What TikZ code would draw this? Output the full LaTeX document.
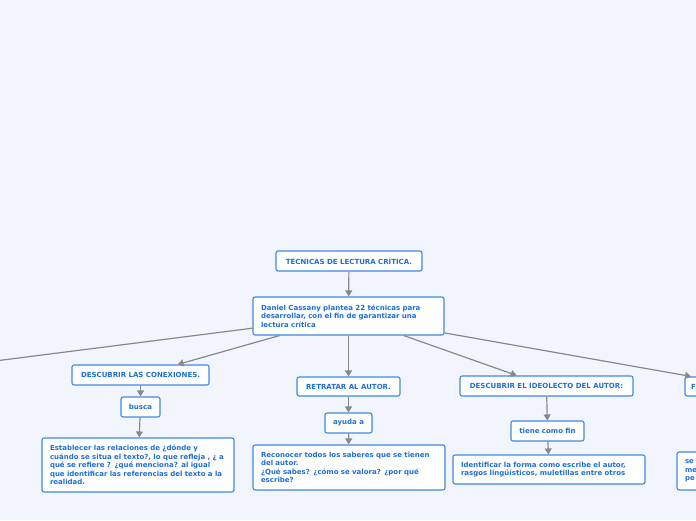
\documentclass[tikz,border=0pt]{standalone}
\usepackage{fontspec}
\usepackage{xcolor}
\usepackage{tikz}
\usetikzlibrary{arrows.meta, positioning, calc}
\newfontfamily\mapfont{DejaVu Sans}
\definecolor{bgblue}{HTML}{F2F5FD}
\definecolor{boxline}{HTML}{3D8BE5}
\definecolor{boxtext}{HTML}{1E6FD9}
\definecolor{linkgray}{HTML}{888888}

\begin{document}
\begin{tikzpicture}[x=1pt, y=1pt,
  every node/.style={font=\mapfont\bfseries\fontsize{7}{8.5}\selectfont, text=boxtext},
  B/.style={draw=boxline, line width=1.1pt, fill=white, rounded corners=2pt,
            inner sep=0pt, minimum height=20},
  T/.style={B, align=left, text width=#1, inner xsep=8pt},
  link/.style={draw=linkgray, line width=1.2pt, -{Triangle[length=6pt,width=7pt]}},
  rim/.style={draw=linkgray, line width=1.2pt}]
  % canvas
  \fill[bgblue] (0,0) rectangle (696,520);
  \useasboundingbox (0,0) rectangle (696,520);
  \clip (0,0) rectangle (696,520);
  % title + main idea
  \node[B, minimum width=146] (title) at (349,259) {TÉCNICAS DE LECTURA CRÍTICA.};
  \node[T=175, minimum height=38] (cassany) at (348.5,204)
    {Daniel Cassany plantea 22 técnicas para\\desarrollar, con el fin de garantizar una\\lectura crítica};
  \draw[link] (title) -- (cassany);
  % branch 1
  \node[B, minimum width=137] (conex) at (140.5,145) {DESCUBRIR LAS CONEXIONES.};
  \node[B, minimum width=39] (busca) at (140.5,113) {busca};
  \node[T=176, minimum height=54] (relac) at (138,55)
    {Establecer las relaciones de ¿dónde y\\cuándo se situa el texto?, lo que refleja , ¿ a\\qué se refiere ? ¿qué menciona? al igual\\que identificar las referencias del texto a la\\realidad.};
  \draw[link] (cassany) -- (conex);
  \draw[link] (conex) -- (busca);
  \draw[link] (busca) -- (relac);
  % branch 2
  \node[B, minimum width=103, minimum height=19] (retrato) at (348.5,133.5) {RETRATAR AL AUTOR.};
  \node[B, minimum width=47] (ayuda) at (348.5,97) {ayuda a};
  \node[T=176, minimum height=45] (saberes) at (349,52.5)
    {Reconocer todos los saberes que se tienen\\del autor.\\¿Qué sabes? ¿cómo se valora? ¿por qué\\escribe?};
  \draw[link] (cassany) -- (retrato);
  \draw[link] (retrato) -- (ayuda);
  \draw[link] (ayuda) -- (saberes);
  % branch 3
  \node[B, minimum width=173] (ideo) at (546.5,134) {DESCUBRIR EL IDEOLECTO DEL AUTOR:};
  \node[B, minimum width=73] (fin) at (547.5,89) {tiene como fin};
  \node[T=176, minimum height=29] (forma) at (549,50.5)
    {Identificar la forma como escribe el autor,\\rasgos lingüísticos, muletillas entre otros};
  \draw[link] (cassany) -- (ideo);
  \draw[link] (ideo) -- (fin);
  \draw[link] (fin) -- (forma);
  % cut off at the edges
  \node[T=114, minimum height=19, inner xsep=6pt] (edgeR) at (748,133.5) {F};
  \node[T=114, minimum height=38] (edgeRb) at (742,49) {se\\me\\pe};
  \coordinate (edgeL) at (-60,152);
  \draw[rim] (cassany) -- (edgeL);
  \draw[link] (cassany) -- (edgeR);
\end{tikzpicture}
\end{document}
